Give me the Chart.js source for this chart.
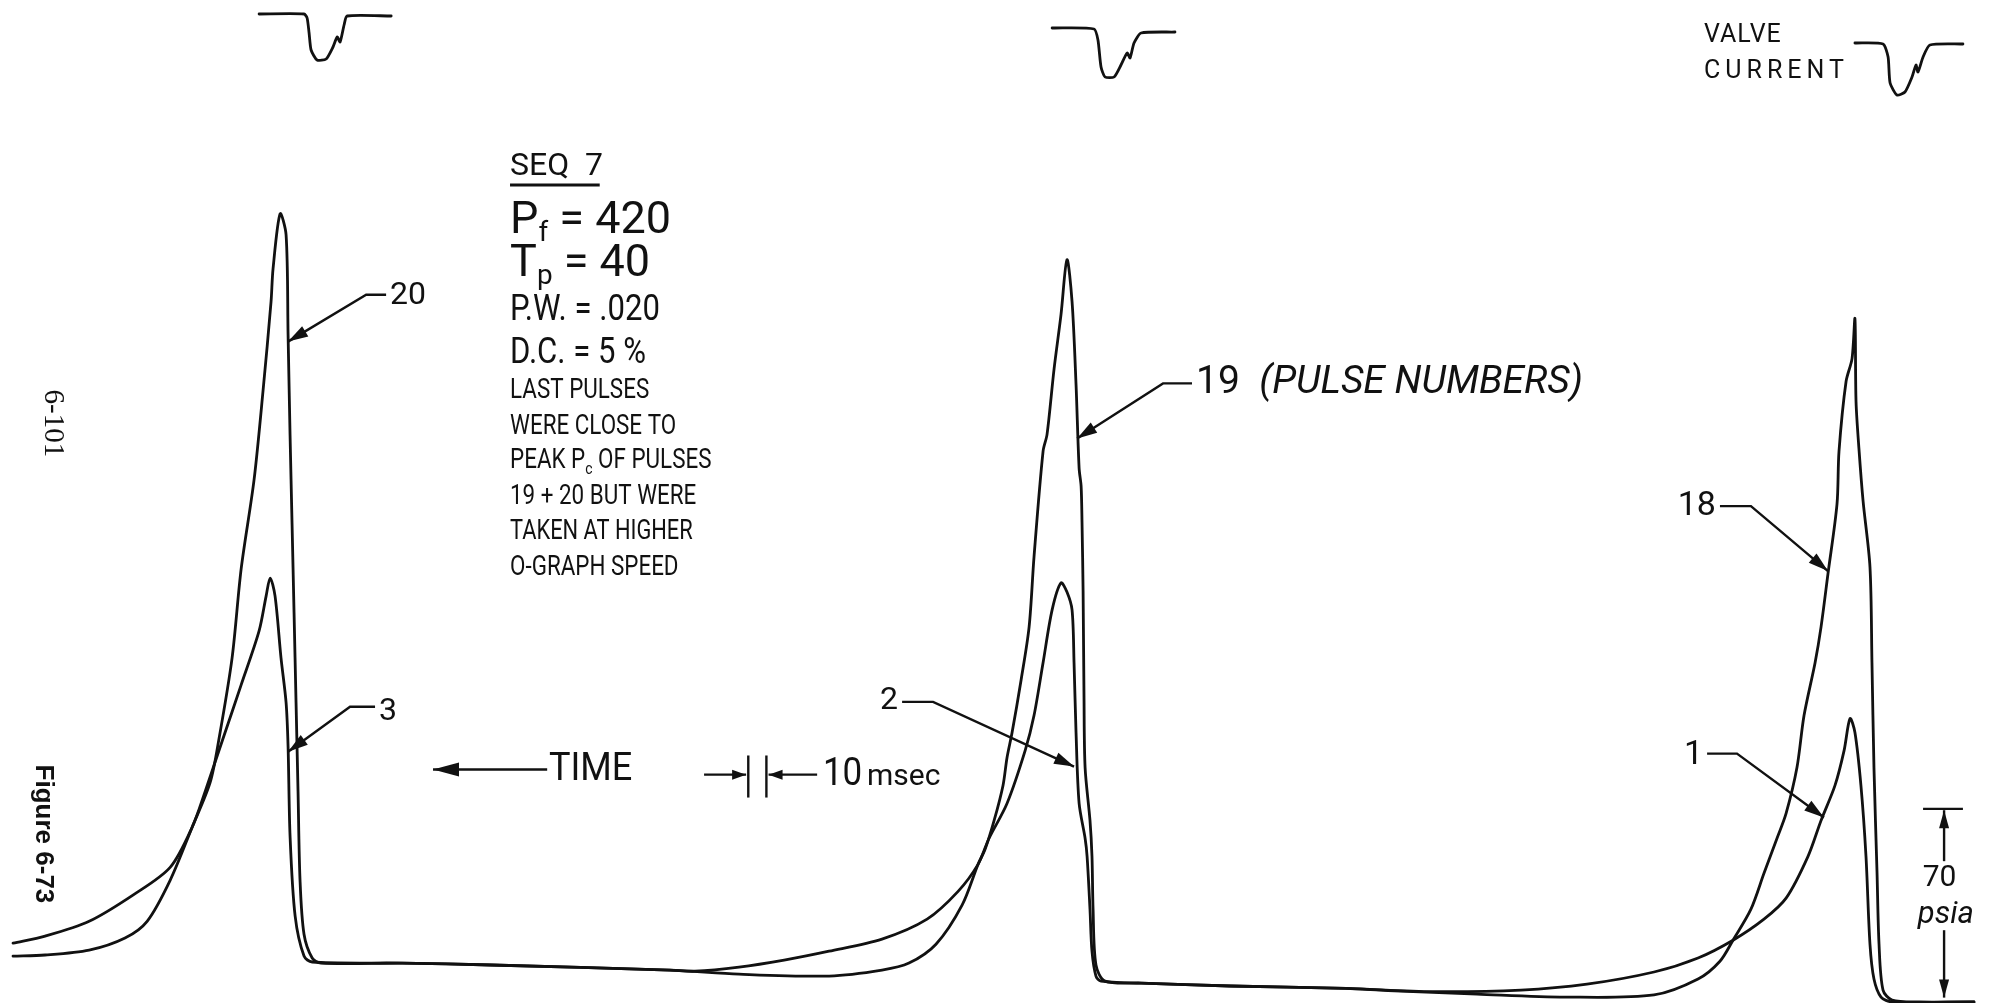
<!DOCTYPE html>
<html>
<head>
<meta charset="utf-8">
<title>SEQ 7 - chamber pressure pulses</title>
<script src="https://cdn.jsdelivr.net/npm/chart.js@4.4.1/dist/chart.umd.min.js"></script>
<style>
  html, body { margin: 0; padding: 0; background: #ffffff; }
  #wrap { width: 1993px; height: 1003px; }
</style>
</head>
<body>
<div id="wrap"><canvas id="pulseChart" width="1993" height="1003"></canvas></div>
<script>
// ===========================
// DATA
// time in msec (0 at right edge, time runs to the left), pressure in psia
// ===========================

// late pulses (18, 19, 20) - the tall ones
const pulse20 = [
  [1092.8, 15.4], [1075.1, 15.8], [1050.8, 17.6], [1031.0, 22.1], [1018.8, 28.3],
  [1006.1, 43.5], [994.0, 63.1], [984.0, 79.8], [979.1, 96.1], [971.9, 126.0],
  [966.9, 159.0], [959.8, 191.9], [954.8, 225.2], [950.4, 258.1], [949.3, 270.3],
  [945.4, 290.7], [942.1, 282.9], [941.0, 245.9], [939.9, 208.5], [938.8, 175.6],
  [937.7, 142.7], [936.6, 109.4], [935.5, 76.4], [934.4, 43.5], [932.2, 23.5],
  [927.7, 14.7], [922.8, 12.8], [878.1, 12.8], [829.0, 12.1], [730.2, 10.2]
];
const pulse19 = [
  [692.1, 8.7], [642.4, 8.0], [613.2, 10.2], [598.3, 12.8], [583.4, 19.8],
  [569.0, 34.3], [560.2, 49.4], [556.3, 55.0], [551.3, 65.7], [546.4, 78.7],
  [544.2, 89.0], [541.4, 98.3], [536.4, 117.9], [532.0, 137.5], [529.3, 163.4],
  [524.3, 202.6], [522.1, 208.9], [518.2, 233.3], [514.4, 253.3], [511.1, 273.7],
  [508.3, 258.1], [506.1, 227.4], [504.4, 196.3], [503.3, 189.7], [502.8, 176.3],
  [502.2, 150.4], [501.7, 111.2], [501.1, 85.3], [498.4, 65.7], [497.3, 52.4],
  [496.7, 32.8], [495.1, 12.1], [490.1, 6.1], [470.2, 5.4], [421.1, 4.3], [357.1, 3.4]
];
const pulse18 = [
  [333.9, 2.6], [284.8, 1.3], [236.2, 0.2], [187.1, 1.0], [162.8, 6.9],
  [150.7, 13.5], [143.5, 21.3], [133.6, 32.8], [126.4, 46.1], [119.2, 59.1],
  [114.2, 68.3], [108.2, 85.3], [104.3, 104.6], [98.2, 124.2], [94.9, 137.5],
  [91.1, 157.1], [86.1, 183.0], [85.0, 202.6], [81.1, 228.5], [77.8, 237.0],
  [76.2, 251.8], [75.6, 221.1], [74.0, 203.7], [71.7, 184.1], [67.9, 159.7],
  [66.8, 124.2], [65.7, 85.3], [64.0, 46.1], [62.9, 19.8], [60.7, 2.8],
  [55.7, -0.9], [40.8, -1.6], [10.5, -1.6]
];

// early pulses (1, 2, 3) - the short ones
const pulse3 = [
  [1092.8, 20.2], [1075.1, 22.8], [1050.8, 28.3], [1026.0, 38.3], [1006.1, 48.3],
  [994.0, 63.1], [986.8, 76.4], [976.9, 96.1], [966.9, 116.0], [957.0, 136.0],
  [953.1, 149.0], [950.9, 155.6], [948.2, 149.0], [944.9, 126.0], [942.1, 109.4],
  [941.0, 93.1], [939.9, 59.8], [937.1, 30.2], [932.2, 15.4], [927.7, 13.2],
  [878.1, 12.8], [829.0, 12.1], [730.2, 10.2]
];
const pulse2 = [
  [716.4, 9.8], [692.1, 11.3], [667.2, 13.9], [642.4, 17.2], [613.2, 21.7],
  [588.3, 29.1], [571.2, 39.4], [560.2, 49.4], [554.1, 59.1], [544.2, 72.0],
  [534.2, 91.6], [529.3, 104.6], [524.3, 124.2], [519.3, 143.8], [514.4, 153.8],
  [511.1, 150.4], [508.3, 143.8], [507.2, 124.2], [506.1, 98.3], [504.4, 72.0],
  [501.1, 59.1], [500.0, 52.4], [498.4, 32.8], [497.3, 17.2], [495.1, 8.0],
  [492.3, 6.1], [470.2, 5.4], [421.1, 4.3], [357.1, 3.4]
];
const pulse1 = [
  [309.1, 2.2], [260.5, 2.8], [224.1, 5.0], [187.1, 9.5], [162.8, 14.7],
  [143.5, 21.3], [126.4, 29.1], [114.2, 36.9], [102.1, 52.4], [94.9, 65.7],
  [87.2, 78.7], [82.2, 91.6], [78.9, 103.5], [76.2, 98.3], [72.9, 78.7],
  [70.1, 52.4], [67.9, 19.8], [65.7, 6.9], [61.8, 0.2], [55.7, -1.6], [10.5, -1.6]
];

// valve current traces (relative units on their own hidden axis)
const valve1 = [
  [957.0, 8.6], [932.2, 8.6], [930.5, 8.2], [929.4, 6.7], [928.3, 5.0], [925.0, 4.0],
  [920.0, 4.1], [916.2, 5.3], [913.9, 6.3], [912.3, 5.8], [910.1, 7.5], [908.4, 8.4], [884.1, 8.4]
];
const valve2 = [
  [519.3, 7.2], [496.2, 7.1], [494.0, 6.0], [492.3, 3.3], [490.1, 2.3], [485.1, 2.3],
  [481.3, 3.5], [477.9, 4.7], [476.3, 4.2], [474.1, 5.7], [470.2, 6.7], [451.5, 6.8]
];
const valve3 = [
  [76.2, 5.7], [60.7, 5.6], [57.9, 4.3], [56.8, 1.7], [53.0, 0.5], [48.6, 0.8],
  [44.7, 2.3], [42.5, 3.5], [41.4, 2.8], [38.6, 4.3], [34.8, 5.5], [16.6, 5.6]
];

// scale marks
const TIME_MARK = [687, 677];   // 10 msec marker
const PSIA_MARK = 70;           // 70 psia bar

// ===========================
// LABELS (anchored in data units: [t msec, psia])
// ===========================

const FONT = '"Roboto", "DejaVu Sans", sans-serif';

const noteLines = [
  { p: 308.1, size: 32, h: 1, parts: [{ s: "SEQ  7" }] },
  { p: 287.7, size: 45, h: 1, parts: [{ s: "P" }, { s: "f", sub: true }, { s: " = 420" }] },
  { p: 271.8, size: 45, h: 1, parts: [{ s: "T" }, { s: "p", sub: true }, { s: " = 40" }] },
  { p: 254.8, size: 37, h: 0.84, parts: [{ s: "P.W. = .020" }] },
  { p: 238.9, size: 37, h: 0.84, parts: [{ s: "D.C. = 5 %" }] },
  { p: 224.8, size: 28, h: 0.8, parts: [{ s: "LAST PULSES" }] },
  { p: 211.5, size: 28, h: 0.8, parts: [{ s: "WERE CLOSE TO" }] },
  { p: 198.9, size: 28, h: 0.8, parts: [{ s: "PEAK P" }, { s: "c", sub: true }, { s: " OF PULSES" }] },
  { p: 185.6, size: 28, h: 0.8, parts: [{ s: "19 + 20 BUT WERE" }] },
  { p: 172.6, size: 28, h: 0.78, parts: [{ s: "TAKEN AT HIGHER" }] },
  { p: 159.3, size: 28, h: 0.8, parts: [{ s: "O-GRAPH SPEED" }] }
];
const NOTE_T = 818.5;
const SEQ_UNDERLINE = { p: 301.4, t0: 818.5, t1: 769.0 };

// pulse number call-outs: label position and leader path (last point = arrow tip)
const callouts = [
  { parts: [{ s: "20" }], p: 260.3, size: 32, side: "right", path: [[886.9, 260.7], [897.9, 260.7], [941.0, 243.3]] },
  { parts: [{ s: "3" }], p: 106.0, size: 32, side: "right", path: [[893.0, 107.9], [906.8, 107.9], [941.0, 91.2]] },
  { parts: [{ s: "2" }], p: 110.1, size: 32, side: "left", path: [[602.1, 109.7], [585.0, 109.7], [507.2, 85.7]] },
  { parts: [{ s: "19  " }, { s: "(PULSE NUMBERS)", it: true }], p: 227.8, size: 39, side: "right", path: [[442.1, 227.8], [458.1, 227.8], [505.5, 207.4]] },
  { parts: [{ s: "18" }], p: 182.3, size: 34, side: "left", path: [[150.7, 182.3], [133.6, 182.3], [91.1, 158.2]] },
  { parts: [{ s: "1" }], p: 89.8, size: 34, side: "left", path: [[157.8, 90.5], [141.3, 90.5], [93.3, 66.8]] }
];

// ===========================
// DRAW HELPERS
// ===========================

function partsWidth(ctx, parts, size) {
  let w = 0;
  parts.forEach((part) => {
    const fs = part.sub ? size * 0.62 : size;
    ctx.font = (part.it ? "italic " : "") + fs + "px " + FONT;
    w += ctx.measureText(part.s).width;
  });
  return w;
}

function drawParts(ctx, x, y, parts, size, hscale) {
  ctx.save();
  ctx.translate(x, y);
  ctx.scale(hscale || 1, 1);
  let cx = 0;
  parts.forEach((part) => {
    const fs = part.sub ? size * 0.62 : size;
    ctx.font = (part.it ? "italic " : "") + fs + "px " + FONT;
    ctx.fillText(part.s, cx, part.sub ? size * 0.28 : 0);
    cx += ctx.measureText(part.s).width;
  });
  ctx.restore();
}

function arrowHead(ctx, x0, y0, x1, y1, len, half) {
  const a = Math.atan2(y1 - y0, x1 - x0);
  ctx.beginPath();
  ctx.moveTo(x1, y1);
  ctx.lineTo(x1 - len * Math.cos(a) + half * Math.sin(a), y1 - len * Math.sin(a) - half * Math.cos(a));
  ctx.lineTo(x1 - len * Math.cos(a) - half * Math.sin(a), y1 - len * Math.sin(a) + half * Math.cos(a));
  ctx.closePath();
  ctx.fill();
}

function arrowLine(ctx, pts, len, half) {
  ctx.beginPath();
  ctx.moveTo(pts[0][0], pts[0][1]);
  for (let i = 1; i < pts.length; i++) ctx.lineTo(pts[i][0], pts[i][1]);
  ctx.stroke();
  const a = pts[pts.length - 2], b = pts[pts.length - 1];
  arrowHead(ctx, a[0], a[1], b[0], b[1], len, half);
}

// ===========================
// ANNOTATION PLUGIN
// ===========================

const annotate = {
  id: "annotate",
  afterDatasetsDraw(chart) {
    const ctx = chart.ctx;
    const sx = chart.scales.x, sp = chart.scales.y, sc = chart.scales.yc;
    const px = (t) => sx.getPixelForValue(t);
    const py = (p) => sp.getPixelForValue(p);

    ctx.save();
    ctx.fillStyle = "#111";
    ctx.strokeStyle = "#111";
    ctx.lineWidth = 2.4;
    ctx.textBaseline = "middle";
    ctx.textAlign = "left";

    // note block
    noteLines.forEach((ln) => drawParts(ctx, px(NOTE_T), py(ln.p), ln.parts, ln.size, ln.h));
    ctx.lineWidth = 3;
    ctx.beginPath();
    ctx.moveTo(px(SEQ_UNDERLINE.t0), py(SEQ_UNDERLINE.p));
    ctx.lineTo(px(SEQ_UNDERLINE.t1), py(SEQ_UNDERLINE.p));
    ctx.stroke();

    // call-outs
    ctx.lineWidth = 2.4;
    callouts.forEach((c) => {
      const pts = c.path.map((q) => [px(q[0]), py(q[1])]);
      arrowLine(ctx, pts, 20, 6);
      const w = partsWidth(ctx, c.parts, c.size);
      const x0 = c.side === "left" ? pts[0][0] - 4 - w : pts[0][0] + 4;
      drawParts(ctx, x0, py(c.p), c.parts, c.size, 1);
    });

    // TIME arrow
    arrowLine(ctx, [[px(798.0), py(84.6)], [px(861.0), py(84.6)]], 26, 7);
    drawParts(ctx, px(797.0), py(84.2), [{ s: "TIME" }], 38, 0.95);

    // 10 msec marker
    const yMid = py(82.7);
    arrowLine(ctx, [[px(711.4), yMid], [px(TIME_MARK[0] + 1.2), yMid]], 14, 5);
    arrowLine(ctx, [[px(649.0), yMid], [px(TIME_MARK[1] - 1.2), yMid]], 14, 5);
    TIME_MARK.forEach((t) => {
      ctx.beginPath();
      ctx.moveTo(px(t), py(74.2));
      ctx.lineTo(px(t), py(89.8));
      ctx.stroke();
    });
    drawParts(ctx, px(645.8), py(82.4), [{ s: "10" }], 38, 0.92);
    drawParts(ctx, px(645.8) + 44, py(81.6), [{ s: "msec" }], 30, 1);

    // 70 psia scale bar
    ctx.beginPath();
    ctx.moveTo(px(38.6), py(PSIA_MARK));
    ctx.lineTo(px(16.6), py(PSIA_MARK));
    ctx.stroke();
    arrowLine(ctx, [[px(27.0), py(50.6)], [px(27.0), py(PSIA_MARK - 0.5)]], 18, 5);
    arrowLine(ctx, [[px(27.0), py(25.0)], [px(27.0), py(0)]], 18, 5);
    ctx.textAlign = "center";
    ctx.font = "30px " + FONT;
    ctx.fillText("70", px(29.5), py(44.3));
    ctx.font = "italic 31px " + FONT;
    ctx.fillText("psia", px(26.0), py(30.7));

    // valve current label
    ctx.textAlign = "left";
    ctx.font = "25px " + FONT;
    ctx.letterSpacing = "1px";
    ctx.fillText("VALVE", px(159.5), sc.getPixelForValue(6.4));
    ctx.letterSpacing = "5px";
    ctx.fillText("CURRENT", px(159.5), sc.getPixelForValue(2.8));
    ctx.letterSpacing = "0px";

    // page marks (rotated)
    ctx.save();
    ctx.translate(px(1071.2), py(213.0));
    ctx.rotate(Math.PI / 2);
    ctx.textAlign = "center";
    ctx.font = '29px "Liberation Serif", serif';
    ctx.fillText("6-101", 0, 0);
    ctx.restore();

    ctx.save();
    ctx.translate(px(1075.9), py(60.7));
    ctx.rotate(Math.PI / 2);
    ctx.textAlign = "center";
    ctx.font = 'bold 26px "Liberation Sans", Arial, sans-serif';
    ctx.fillText("Figure 6-73", 0, 0);
    ctx.restore();

    ctx.restore();
  }
};

// ===========================
// BUILD CHART
// ===========================

const toXY = (arr) => arr.map((d) => ({ x: d[0], y: d[1] }));

function trace(label, points, axis, tension) {
  return {
    label: label,
    data: toXY(points),
    yAxisID: axis,
    borderColor: "#111111",
    borderWidth: 2.8,
    pointRadius: 0,
    tension: tension,
    fill: false,
    borderJoinStyle: "round",
    borderCapStyle: "round"
  };
}

const ctx = document.getElementById("pulseChart").getContext("2d");

new Chart(ctx, {
  type: "line",
  data: {
    datasets: [
      trace("Pulses 18-20", pulse20.concat(pulse19, pulse18), "y", 0.3),
      trace("Pulses 1-3", pulse3.concat(pulse2, pulse1), "y", 0.3),
      trace("Valve current 20", valve1, "yc", 0.2),
      trace("Valve current 19", valve2, "yc", 0.2),
      trace("Valve current 18", valve3, "yc", 0.2)
    ]
  },
  options: {
    responsive: false,
    animation: false,
    layout: { padding: 0 },
    plugins: { legend: { display: false }, tooltip: { enabled: false } },
    scales: {
      x: { type: "linear", reverse: true, min: 0, max: 1100, display: false },
      y: { type: "linear", min: -2, max: 370, display: false },
      yc: { type: "linear", min: -90.3, max: 10, display: false }
    }
  },
  plugins: [annotate]
});
</script>
</body>
</html>
